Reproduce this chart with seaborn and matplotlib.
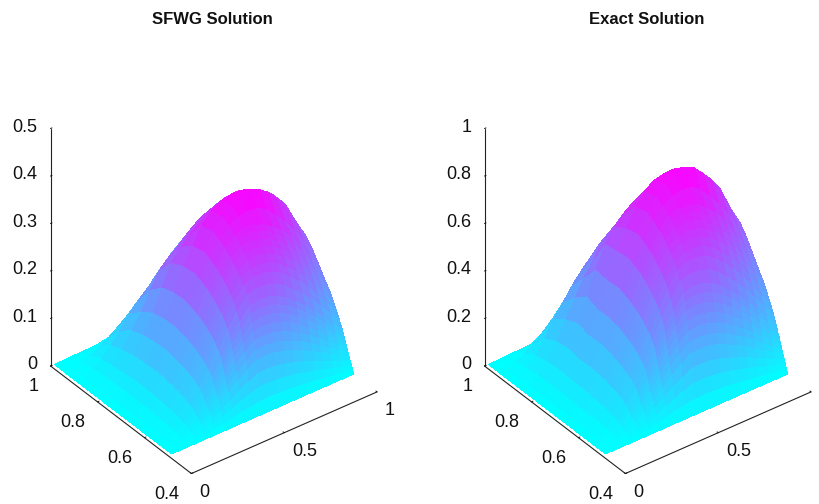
import numpy as np
import matplotlib
matplotlib.use('Agg')
import matplotlib.pyplot as plt
import seaborn as sns

# grid
x_vals = np.array([0.02] + [i / 20 for i in range(1, 21)])
y_vals = np.array([0.5, 0.505, 0.51, 0.515, 0.52, 0.525, 0.53, 0.535, 0.54, 0.545, 0.55, 0.5625, 0.575, 0.5875,
                   0.6, 0.6125, 0.625, 0.6375, 0.65, 0.675, 0.7, 0.75, 0.8, 0.85, 0.9, 0.95, 1.0])

z_sfwg = np.array([
    [0]*21,
    [0,0,.002,.004,.006,.01,.013,.018,.022,.025,.028,.029,.028,.027,.025,.022,.02,.017,.014,.011,.008],
    [0,.001,.003,.007,.012,.019,.026,.035,.043,.05,.056,.057,.055,.053,.049,.044,.039,.033,.027,.021,.016],
    [0,.001,.005,.01,.018,.028,.038,.051,.064,.074,.083,.084,.082,.078,.072,.065,.058,.049,.04,.032,.024],
    [0,.001,.007,.013,.023,.036,.05,.067,.084,.097,.109,.11,.108,.103,.095,.086,.076,.065,.053,.042,.031],
    [0,.002,.008,.015,.027,.043,.059,.079,.099,.114,.128,.13,.127,.122,.113,.103,.091,.079,.065,.052,.039],
    [0,.002,.009,.017,.031,.049,.068,.09,.113,.131,.146,.149,.146,.14,.131,.119,.106,.092,.077,.061,.047],
    [0,.002,.01,.019,.035,.055,.076,.101,.127,.146,.163,.167,.164,.158,.148,.135,.121,.105,.088,.071,.055],
    [0,.002,.011,.021,.039,.06,.084,.111,.14,.161,.18,.184,.182,.175,.164,.15,.135,.118,.099,.08,.062],
    [0,.003,.012,.023,.043,.066,.091,.121,.152,.175,.196,.2,.198,.191,.18,.165,.149,.13,.11,.09,.07],
    [0,.003,.013,.025,.046,.071,.098,.131,.164,.189,.211,.216,.214,.207,.195,.179,.162,.142,.121,.099,.078],
    [0,.003,.014,.027,.05,.077,.106,.142,.177,.205,.229,.235,.234,.228,.217,.2,.183,.163,.14,.116,.094],
    [0,.003,.015,.029,.053,.082,.114,.152,.19,.22,.246,.254,.254,.249,.238,.221,.204,.183,.159,.133,.109],
    [0,.003,.016,.031,.056,.086,.119,.159,.199,.23,.257,.266,.268,.263,.253,.237,.22,.199,.174,.148,.122],
    [0,.003,.016,.032,.058,.089,.124,.165,.207,.239,.267,.278,.281,.277,.268,.253,.236,.214,.189,.162,.135],
    [0,.004,.017,.033,.06,.092,.128,.17,.213,.246,.275,.287,.291,.288,.28,.265,.248,.226,.201,.173,.145],
    [0,.004,.017,.034,.061,.095,.131,.175,.219,.253,.283,.296,.301,.299,.291,.276,.26,.238,.213,.184,.155],
    [0,.004,.018,.035,.063,.097,.134,.179,.224,.259,.289,.304,.31,.309,.302,.287,.272,.25,.225,.195,.165],
    [0,.004,.018,.035,.064,.099,.137,.182,.229,.264,.295,.311,.318,.318,.312,.298,.283,.262,.236,.206,.176],
    [0,.004,.019,.036,.066,.102,.141,.187,.235,.271,.303,.321,.332,.337,.337,.325,.305,.283,.258,.227,.196],
    [0,.004,.019,.037,.067,.104,.144,.192,.241,.278,.311,.331,.345,.355,.362,.355,.335,.31,.28,.247,.213],
    [0,.004,.019,.037,.066,.103,.143,.19,.237,.272,.305,.325,.338,.342,.343,.338,.328,.315,.295,.27,.23],
    [0,.004,.018,.035,.064,.099,.137,.182,.225,.25,.268,.283,.295,.305,.31,.31,.305,.297,.28,.265,.248],
    [0,.003,.017,.032,.058,.09,.12,.158,.192,.21,.225,.243,.258,.268,.275,.282,.284,.28,.272,.262,.248],
    [0,.003,.014,.027,.048,.07,.098,.118,.135,.155,.173,.19,.208,.222,.234,.243,.249,.252,.252,.246,.236],
    [0,.001,.007,.014,.025,.036,.05,.065,.079,.1,.12,.14,.155,.175,.19,.2,.21,.218,.222,.222,.218],
    [0,0,0,.001,.001,.002,.003,.004,.005,.02,.05,.08,.105,.125,.14,.155,.168,.18,.188,.193,.195],
])
z_exact = np.array([
    [0]*21,
    [0,0,.005,.009,.014,.023,.029,.041,.05,.057,.063,.066,.063,.061,.057,.05,.045,.039,.032,.025,.018],
    [0,.002,.007,.016,.027,.043,.059,.079,.097,.113,.127,.129,.125,.12,.111,.1,.088,.075,.061,.048,.036],
    [0,.002,.011,.023,.041,.063,.086,.116,.145,.168,.188,.19,.186,.177,.163,.147,.131,.111,.091,.072,.054],
    [0,.002,.016,.029,.052,.082,.113,.152,.19,.22,.247,.249,.245,.233,.215,.195,.172,.147,.12,.095,.07],
    [0,.005,.018,.034,.061,.097,.134,.179,.224,.258,.29,.294,.288,.276,.256,.233,.206,.179,.147,.118,.088],
    [0,.005,.02,.039,.07,.111,.154,.204,.256,.297,.331,.337,.331,.317,.297,.27,.24,.208,.174,.138,.106],
    [0,.005,.023,.043,.079,.125,.172,.229,.288,.331,.369,.378,.371,.358,.335,.306,.274,.238,.199,.161,.125],
    [0,.005,.025,.048,.088,.136,.19,.251,.317,.365,.408,.417,.412,.396,.371,.34,.306,.267,.224,.181,.14],
    [0,.007,.027,.052,.097,.149,.206,.274,.344,.396,.444,.453,.448,.433,.408,.374,.337,.294,.249,.204,.159],
    [0,.007,.029,.057,.104,.161,.222,.297,.371,.428,.478,.489,.485,.469,.442,.405,.367,.322,.274,.224,.177],
    [0,.007,.032,.061,.113,.174,.24,.322,.401,.464,.519,.532,.53,.516,.492,.453,.414,.369,.317,.263,.213],
    [0,.007,.034,.066,.12,.186,.258,.344,.43,.498,.557,.575,.575,.564,.539,.501,.462,.414,.36,.301,.247],
    [0,.007,.036,.07,.127,.195,.27,.36,.451,.521,.582,.602,.607,.596,.573,.537,.498,.451,.394,.335,.276],
    [0,.007,.036,.072,.131,.202,.281,.374,.469,.541,.605,.63,.636,.627,.607,.573,.535,.485,.428,.367,.306],
    [0,.009,.039,.075,.136,.208,.29,.385,.482,.557,.623,.65,.659,.652,.634,.6,.562,.512,.455,.392,.328],
    [0,.009,.039,.077,.138,.215,.297,.396,.496,.573,.641,.67,.682,.677,.659,.625,.589,.539,.482,.417,.351],
    [0,.009,.041,.079,.143,.22,.304,.405,.507,.587,.655,.689,.702,.7,.684,.65,.616,.566,.51,.442,.374],
    [0,.009,.041,.079,.145,.224,.31,.412,.519,.598,.668,.704,.72,.72,.707,.675,.641,.593,.535,.467,.399],
    [0,.009,.043,.082,.149,.231,.319,.424,.532,.614,.686,.727,.752,.763,.763,.736,.691,.641,.584,.514,.444],
    [0,.009,.043,.084,.152,.236,.326,.435,.546,.63,.704,.75,.781,.804,.82,.804,.759,.702,.634,.559,.482],
    [0,.009,.043,.084,.149,.233,.324,.43,.537,.616,.691,.736,.766,.775,.777,.766,.743,.713,.668,.612,.521],
    [0,.01,.045,.088,.16,.248,.343,.44,.53,.585,.625,.655,.675,.69,.70,.70,.695,.68,.65,.61,.565],
    [0,.008,.044,.083,.151,.225,.30,.37,.43,.485,.52,.55,.575,.60,.62,.633,.638,.635,.62,.595,.562],
    [0,.008,.036,.07,.125,.19,.245,.30,.345,.385,.425,.455,.48,.505,.525,.545,.56,.565,.565,.555,.535],
    [0,.003,.018,.036,.065,.094,.13,.165,.205,.25,.29,.325,.36,.39,.425,.45,.475,.49,.505,.505,.495],
    [0,0,0,.003,.003,.005,.008,.01,.013,.052,.123,.188,.238,.283,.317,.351,.381,.408,.426,.437,.442],
])

x_ticks = [0, 0.5, 1]
y_ticks = [0.4, 0.6, 0.8, 1]
z_ticks_sfwg = [0, 0.1, 0.2, 0.3, 0.4, 0.5]
z_ticks_exact = [0, 0.2, 0.4, 0.6, 0.8, 1]

sns.set_theme(style='white')
plt.rcParams['font.family'] = ['Liberation Sans', 'DejaVu Sans']
cool = sns.color_palette('cool', as_cmap=True)

fig = plt.figure(figsize=(8.2, 5.04), dpi=100)
W, H = 820, 504


def face_colors(X, Y, z, ztop):
    # cell colours from the mean height; cells turned away from the viewer are left clear
    zc = (z[:-1, :-1] + z[1:, :-1] + z[:-1, 1:] + z[1:, 1:]) / 4
    zy = ((z[1:, :-1] - z[:-1, :-1]) + (z[1:, 1:] - z[:-1, 1:])) / 2 / np.diff(Y, axis=0)[:, :-1]
    zx = ((z[:-1, 1:] - z[:-1, :-1]) + (z[1:, 1:] - z[1:, :-1])) / 2 / np.diff(X, axis=1)[:-1, :]
    k = 0.5 / ztop
    colors = cool(zc / z.max())
    colors[0.6 + k * zy + 1.28 * k * zx <= 0] = (0, 0, 0, 0)
    return colors


def panel(cx, z, ztop, zticks, title, title_x):
    S = 427
    cy = 266
    ax = fig.add_axes([(cx - S/2)/W, 1 - (cy + S/2)/H, S/W, S/H], projection='3d', proj_type='ortho')
    ax.patch.set_alpha(0)
    X, Y = np.meshgrid(x_vals, y_vals)
    ax.plot_surface(X, Y, z, facecolors=face_colors(X, Y, z, ztop), rstride=1, cstride=1,
                    linewidth=0, antialiased=False, shade=False)
    ax.view_init(elev=35.4, azim=-127.2)
    ax.set_box_aspect((1, 1, 1.25), zoom=1.0)
    ax.set_xlim(0, 1, view_margin=0)
    ax.set_ylim(0.4, 1, view_margin=0)
    ax.set_zlim(0, ztop, view_margin=0)
    ax.set_xticks(x_ticks)
    ax.set_xticklabels(['0', '0.5', '1'], ha='left', va='center')
    ax.set_yticks(y_ticks)
    ax.set_yticklabels(['0.4', '0.6', '0.8', '1'], ha='right', va='center')
    ax.set_zticks(zticks)
    ax.set_zticklabels([f'{t:g}' for t in zticks], ha='right', va='center')
    ax.grid(False)
    for a in (ax.xaxis, ax.yaxis, ax.zaxis):
        a.pane.set_visible(False)
        a.line.set_color('#222222')
        a.line.set_linewidth(0.8)
        a._axinfo['tick']['inward_factor'] = 0.0
        a._axinfo['tick']['outward_factor'] = 0.1
        a._axinfo['tick']['linewidth'] = {True: 0.7, False: 0.5}
        a._axinfo['tick']['color'] = '#222222'
    ax.tick_params(labelsize=13, colors='#111111')
    ax.tick_params(axis='x', pad=0.7)
    ax.tick_params(axis='y', pad=2.5)
    ax.tick_params(axis='z', pad=-1.5)
    fig.text(title_x/W, 1 - 19/H, title, ha='center', va='center', fontsize=12, fontweight='bold', color='#111111')
    return ax


panel(208, z_sfwg, 0.5, z_ticks_sfwg, 'SFWG Solution', 212)
panel(642, z_exact, 1, z_ticks_exact, 'Exact Solution', 647)

fig.savefig('out.png', dpi=100)
